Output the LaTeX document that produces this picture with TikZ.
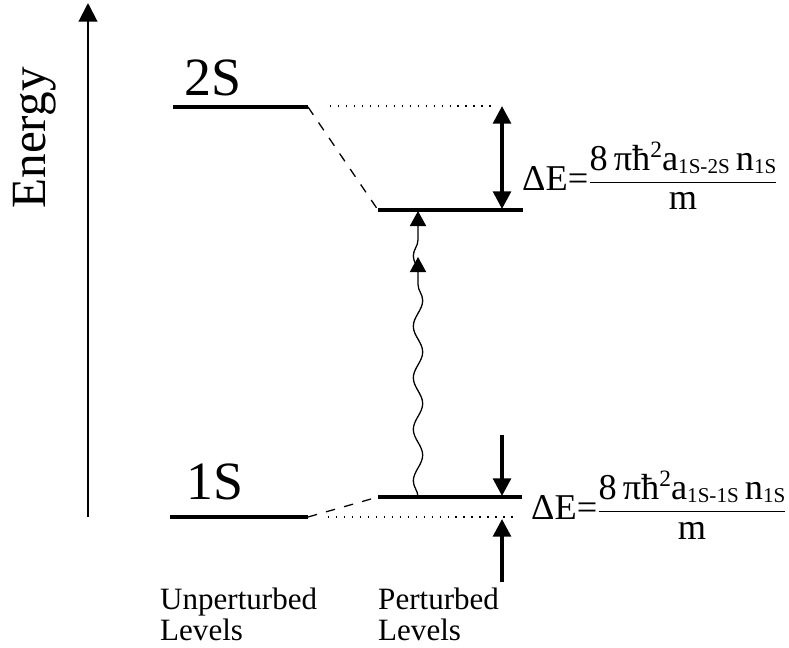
\documentclass[tikz,border=0pt]{standalone}
\usepackage{fontspec}
\setmainfont{Liberation Serif}
\usepackage{amsmath}
\usepackage{tikz}
\usetikzlibrary{arrows.meta, positioning, decorations.pathmorphing}

\newcommand{\lowsub}[1]{\raisebox{-3pt}{\fontsize{18}{18}\selectfont #1}}
\newcommand{\upsup}[1]{\raisebox{11pt}{\fontsize{20}{20}\selectfont #1}}

\begin{document}
\begin{tikzpicture}[
  x=0.03cm, y=-0.03cm,
  level/.style={line width=3.2pt},
  shiftline/.style={line width=1.1pt, dash pattern=on 8pt off 8pt},
  refline/.style={line width=1.8pt, dash pattern=on 1.2pt off 5.6pt},
  gap/.style={line width=3.2pt, -{Triangle[length=15pt, width=15pt]}},
  gapboth/.style={line width=3.2pt, {Triangle[length=15pt, width=15pt]}-{Triangle[length=15pt, width=15pt]}},
  photon/.style={line width=1.1pt, -{Triangle[length=13pt, width=14pt]},
                 decorate, decoration={snake, amplitude=4pt, segment length=44pt, post length=6pt}},
  lbl/.style={inner sep=0pt, font=\fontsize{46}{50}\selectfont},
  note/.style={inner sep=0pt, align=left, font=\fontsize{26.5}{26}\selectfont},
  frm/.style={inner sep=0pt, font=\fontsize{31}{37}\selectfont}
]
\useasboundingbox (0,0) rectangle (789,647);

% energy axis
\coordinate (ax0) at (88,517);
\coordinate (ax1) at (88,3);
\draw[line width=1.7pt, -{Triangle[length=16pt, width=16pt]}] (ax0) -- (ax1);
\node[rotate=90, inner sep=0pt, font=\fontsize{42}{48}\selectfont] (energy) at (35,138) {Energy};

% level end points
\coordinate (u2a) at (173,107);
\coordinate (u2b) at (308,107);
\coordinate (p2a) at (378,210);
\coordinate (p2b) at (523,210);
\coordinate (u1a) at (170,517);
\coordinate (u1b) at (308,517);
\coordinate (p1a) at (378,497);
\coordinate (p1b) at (522,497);
\coordinate (d2a) at (330,106);
\coordinate (d2b) at (497,106);
\coordinate (d1a) at (328,517);
\coordinate (d1b) at (518,517);

\draw[level] (u2a) -- (u2b);
\draw[level] (p2a) -- (p2b);
\draw[level] (u1a) -- (u1b);
\draw[level] (p1a) -- (p1b);
\draw[refline] (d2a) -- (d2b);
\draw[refline] (d1a) -- (d1b);
\draw[shiftline] (u2b) -- (p2a);
\draw[shiftline] (u1b) -- (p1a);

\node[lbl, anchor=base west] (l2) at (184,95) {2S};
\node[lbl, anchor=base west] (l1) at (186,499) {1S};

% level shifts
\coordinate (g2a) at (502,106);
\coordinate (g2b) at (502,209);
\draw[gapboth] (g2a) -- (g2b);
\coordinate (g1a) at (502,435);
\coordinate (g1b) at (502,496);
\draw[gap] (g1a) -- (g1b);
\coordinate (g1c) at (502,582);
\coordinate (g1d) at (502,519);
\draw[gap] (g1c) -- (g1d);

% two-photon excitation
\coordinate (w0) at (418,497);
\coordinate (w1) at (418,257);
\coordinate (w2) at (418,272);
\coordinate (w3) at (418,211);
\draw[photon] (w0) -- (w1);
\draw[photon] (w2) -- (w3);

\node[frm, anchor=base west] (dE2) at (522,190)
  {ΔE=$\dfrac{\mbox{8\,πħ\upsup{2}a\lowsub{1S-2S}\,n\lowsub{1S}}}{\mbox{m}}$};
\node[frm, anchor=base west] (dE1) at (531,519)
  {ΔE=$\dfrac{\mbox{8\,πħ\upsup{2}a\lowsub{1S-1S}\,n\lowsub{1S}}}{\mbox{m}}$};

\node[note, anchor=north west] (unp) at (160,588) {Unperturbed\\Levels};
\node[note, anchor=north west] (per) at (unp.north west -| p1a) {Perturbed\\Levels};
\end{tikzpicture}
\end{document}
